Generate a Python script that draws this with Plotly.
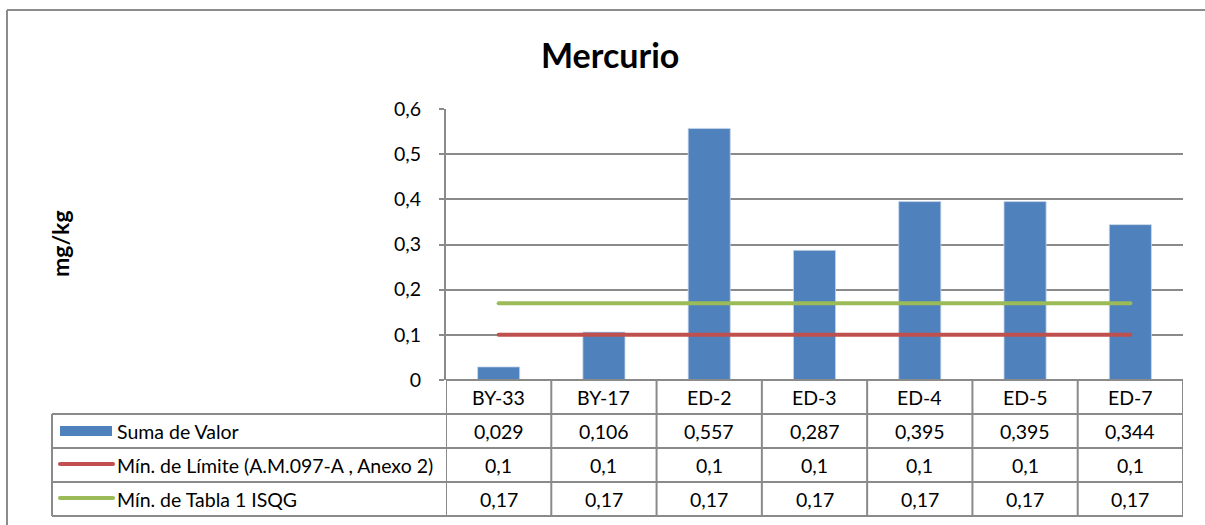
import plotly.graph_objects as go

categories = ["BY-33", "BY-17", "ED-2", "ED-3", "ED-4", "ED-5", "ED-7"]
suma_valor = [0.029, 0.106, 0.557, 0.287, 0.395, 0.395, 0.344]
limite_am = [0.1, 0.1, 0.1, 0.1, 0.1, 0.1, 0.1]
tabla_isqg = [0.17, 0.17, 0.17, 0.17, 0.17, 0.17, 0.17]
series_names = ["Suma de Valor", "Mín. de Límite (A.M.097-A , Anexo 2)", "Mín. de Tabla 1 ISQG"]
y_ticks = [0, 0.1, 0.2, 0.3, 0.4, 0.5, 0.6]

W, H = 1205, 525
def px(x):
    return x / W
def py(y):
    return 1 - y / H

FONT = "Lato"
GRID = "#8a8a8a"
BLUE = "#4F81BD"
RED = "#C0504D"
GREEN = "#9BBB59"

X0, X1 = 446, 1183
Y_TOP, Y_BOT = 109, 380
ROWS = [380, 414, 448, 482, 516]
TABLE_LEFT = 52

fig = go.Figure()
fig.add_trace(go.Bar(x=categories, y=suma_valor, name=series_names[0],
                     marker=dict(color=BLUE, line=dict(color="#c9d7ea", width=0.8)),
                     width=0.4))
fig.add_trace(go.Scatter(x=categories, y=limite_am, name=series_names[1], mode="lines",
                         line=dict(color=RED, width=4)))
fig.add_trace(go.Scatter(x=categories, y=tabla_isqg, name=series_names[2], mode="lines",
                         line=dict(color=GREEN, width=4)))

shapes = []
shapes.append(dict(type="line", xref="paper", yref="paper", x0=px(7), x1=px(1210), y0=py(10), y1=py(10),
                   line=dict(color="#8c8c8c", width=2)))
shapes.append(dict(type="line", xref="paper", yref="paper", x0=px(7), x1=px(7), y0=py(10), y1=py(530),
                   line=dict(color="#8c8c8c", width=2)))
for i, yy in enumerate(ROWS):
    left = X0 if i == 0 else TABLE_LEFT
    shapes.append(dict(type="line", xref="paper", yref="paper", x0=px(left), x1=px(X1), y0=py(yy), y1=py(yy),
                       line=dict(color=GRID, width=2)))
shapes.append(dict(type="line", xref="paper", yref="paper", x0=px(TABLE_LEFT), x1=px(TABLE_LEFT),
                   y0=py(ROWS[1]), y1=py(ROWS[-1]), line=dict(color=GRID, width=2)))
for k in range(len(categories) + 1):
    shapes.append(dict(type="line", xref="x", yref="paper", x0=k - 0.5, x1=k - 0.5,
                       y0=py(ROWS[0]), y1=py(ROWS[-1]), line=dict(color=GRID, width=2)))
shapes.append(dict(type="rect", xref="paper", yref="paper", x0=px(60), x1=px(112), y0=py(426), y1=py(436),
                   fillcolor=BLUE, line=dict(width=0)))
shapes.append(dict(type="line", xref="paper", yref="paper", x0=px(60), x1=px(113), y0=py(464), y1=py(464),
                   line=dict(color=RED, width=4)))
shapes.append(dict(type="line", xref="paper", yref="paper", x0=px(60), x1=px(113), y0=py(498), y1=py(498),
                   line=dict(color=GREEN, width=4)))

def fmt(v):
    return ("%g" % v).replace(".", ",")

annotations = []
txtfont = dict(family=FONT, size=19.5, color="#000000")
row_series = [suma_valor, limite_am, tabla_isqg]
for j, c in enumerate(categories):
    annotations.append(dict(x=c, xref="x", y=py((ROWS[0] + ROWS[1]) / 2), yref="paper", text=c,
                            showarrow=False, font=txtfont, xanchor="center", yanchor="middle"))
    for r, s in enumerate(row_series):
        annotations.append(dict(x=c, xref="x", y=py((ROWS[r + 1] + ROWS[r + 2]) / 2), yref="paper",
                                text=fmt(s[j]), showarrow=False, font=txtfont,
                                xanchor="center", yanchor="middle"))
for r, name in enumerate(series_names):
    annotations.append(dict(x=px(115), xref="paper", y=py((ROWS[r + 1] + ROWS[r + 2]) / 2), yref="paper",
                            text=name, showarrow=False, font=txtfont, xanchor="left", yanchor="middle"))
annotations.append(dict(x=px(610), xref="paper", y=py(55), yref="paper", text="<b>Mercurio</b>",
                        showarrow=False, font=dict(family=FONT, size=34, color="#000000"),
                        xanchor="center", yanchor="middle"))
annotations.append(dict(x=px(60), xref="paper", y=py(243), yref="paper", text="<b>mg/kg</b>",
                        showarrow=False, textangle=-90, font=dict(family=FONT, size=23, color="#000000"),
                        xanchor="center", yanchor="middle"))

fig.update_layout(
    template="none",
    width=W, height=H,
    margin=dict(l=0, r=0, t=0, b=0, pad=0, autoexpand=False),
    paper_bgcolor="white", plot_bgcolor="white",
    showlegend=False,
    separators=",.",
    font=dict(family=FONT, size=19.5, color="#000000"),
    shapes=shapes,
    annotations=annotations,
    xaxis=dict(domain=[px(X0), px(X1)], type="category", range=[-0.5, len(categories) - 0.5],
               automargin=False,
               showticklabels=False, showgrid=False, zeroline=False, showline=False, ticks=""),
    yaxis=dict(domain=[py(Y_BOT), py(Y_TOP)], range=[0, 0.6], tickvals=y_ticks, automargin=False,
               showgrid=True, gridcolor=GRID, gridwidth=1.5, zeroline=False,
               showline=True, linecolor=GRID, linewidth=2, ticks="outside", ticklen=5,
               tickcolor=GRID, tickwidth=1.5, ticklabelstandoff=14,
               tickfont=dict(family=FONT, size=19.5, color="#000000")),
)

post = (
    "document.body.style.margin='0';document.body.style.overflow='hidden';"
    "document.querySelectorAll('.scatterlayer path.js-line').forEach(function(p){p.style.strokeLinecap='round';});"
    "document.querySelectorAll('.shapelayer path').forEach(function(p){var w=parseFloat(p.style.strokeWidth||'0');"
    "if(w>=4){p.style.strokeLinecap='round';}});"
)
fig.write_html("out.html", config={"displayModeBar": False}, post_script=post)
